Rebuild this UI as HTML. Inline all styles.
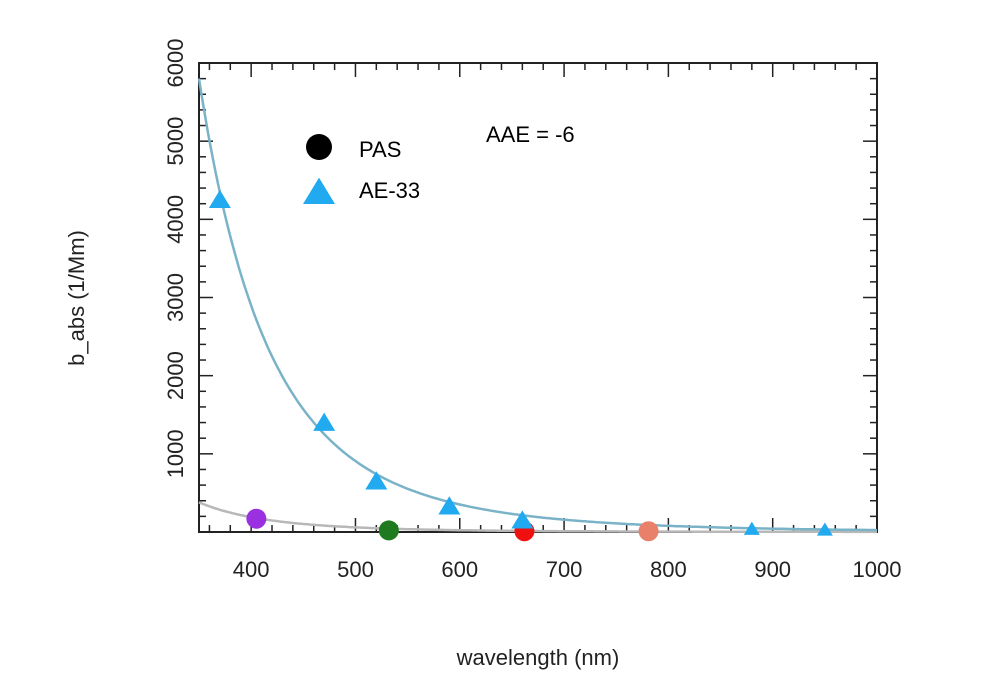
<!DOCTYPE html>
<html><head><meta charset="utf-8"><style>
body{margin:0;background:#fff;}
svg{display:block;font-family:"Liberation Sans",sans-serif;}
</style></head><body>
<svg id="chart" width="990" height="682" viewBox="0 0 990 682"></svg>
<script>
const xTicks=[400,500,600,700,800,900,1000];
const yTicks=[1000,2000,3000,4000,5000,6000];
const aeWl=[370,470,520,590,660,880,950];
const aeVal=[4250,1400,650,330,150,40,30];
const pasWl=[405,532,662,781];
const pasVal=[170,20,10,10];
const pasColors=["#9b30e0","#1f7a1f","#f01010","#e8806a"];
const fitAE=[5800,5.2];
const fitPAS=[380,5.2];
const L=199,R=877,T=63,B=532;
const xs=v=>L+(v-350)/(1000-350)*(R-L);
const ys=v=>B-(v/6000)*(B-T);
const svg=document.getElementById('chart');
const NS="http://www.w3.org/2000/svg";
function mk(t,a,p){const e=document.createElementNS(NS,t);for(const k in a)e.setAttribute(k,a[k]);(p||svg).appendChild(e);return e;}
let e;
e=mk('rect',{x:L,y:T,width:R-L,height:B-T,fill:'none',stroke:'#222','stroke-width':2});

const tg=mk('g',{stroke:'#222','stroke-width':1.5});

for(let v=360;v<1000;v+=20){const x=xs(v);const len=v%100===0?14:7;
mk('line',{x1:x,y1:B,x2:x,y2:B-len},tg);mk('line',{x1:x,y1:T,x2:x,y2:T+len},tg);}
for(let v=200;v<6000;v+=200){const y=ys(v);const len=v%1000===0?14:7;
mk('line',{x1:L,y1:y,x2:L+len,y2:y},tg);mk('line',{x1:R,y1:y,x2:R-len,y2:y},tg);}
xTicks.forEach(v=>{e=mk('text',{x:xs(v),y:577,'text-anchor':'middle','font-size':22,fill:'#222'});e.textContent=v;
});
yTicks.forEach(v=>{const y=ys(v);e=mk('text',{x:0,y:0,'text-anchor':'middle','font-size':22,fill:'#222',transform:`translate(183,${y}) rotate(-90)`});e.textContent=v;
});
function curve(p,col,name){let d='';for(let w=350;w<=1000;w+=2){const v=p[0]*Math.pow(w/350,-p[1]);d+=(d?'L':'M')+xs(w).toFixed(1)+','+ys(v).toFixed(1);}
e=mk('path',{d,fill:'none',stroke:col,'stroke-width':2.5});}
curve(fitPAS,'#b8b8b8','pas-fit-line');
curve(fitAE,'#7ab3c8','ae33-fit-line');
pasWl.forEach((w,i)=>{e=mk('circle',{cx:xs(w),cy:ys(pasVal[i]),r:10,fill:pasColors[i]});
});
function tri(x,y,s){return `${x},${y-s*0.9} ${x-s},${y+s*0.75} ${x+s},${y+s*0.75}`;}
aeWl.forEach((w,i)=>{const s=i>=5?8:11;e=mk('polygon',{points:tri(xs(w),ys(aeVal[i]),s),fill:'#22aaf0'});
});
e=mk('circle',{cx:319,cy:147,r:13,fill:'#000'});
e=mk('polygon',{points:tri(319,192,16),fill:'#22aaf0'});
e=mk('text',{x:359,y:157,'font-size':22,fill:'#000'});e.textContent='PAS';
e=mk('text',{x:359,y:198,'font-size':22,fill:'#000'});e.textContent='AE-33';
e=mk('text',{x:486,y:142,'font-size':22,fill:'#000'});e.textContent='AAE = -6';
e=mk('text',{x:538,y:665,'text-anchor':'middle','font-size':22,fill:'#222'});e.textContent='wavelength (nm)';
e=mk('text',{x:0,y:0,'text-anchor':'middle','font-size':22,fill:'#222',transform:'translate(84,298) rotate(-90)'});e.textContent='b_abs (1/Mm)';
</script>
</body></html>
